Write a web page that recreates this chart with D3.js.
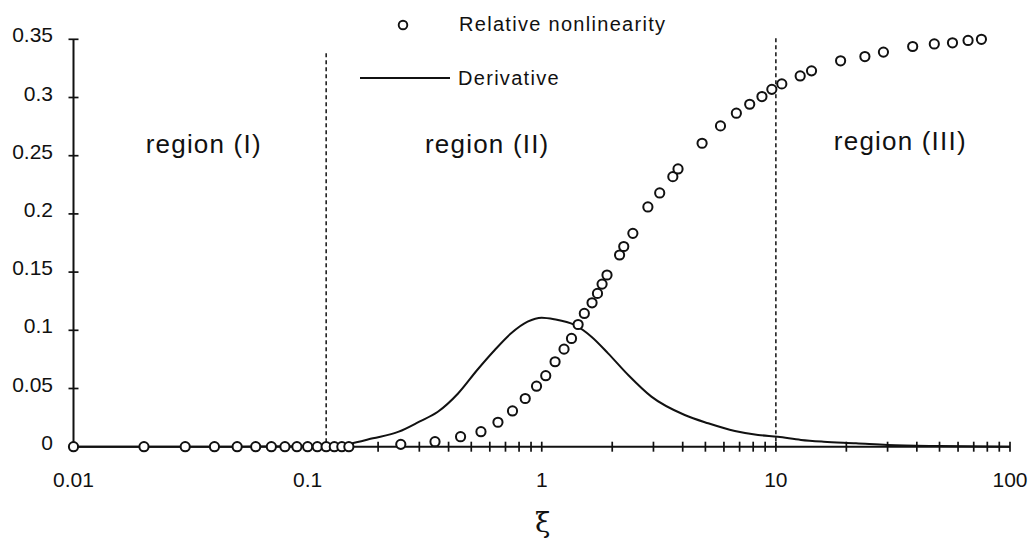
<!DOCTYPE html>
<html>
<head>
<meta charset="utf-8">
<script src="https://d3js.org/d3.v7.min.js"></script>
<style>
  body { margin: 0; background: #fff; }
  text { font-family: "Liberation Sans", Arial, sans-serif; fill: #111; }
</style>
</head>
<body>
<script>
// relative nonlinearity (circles)
var relX = [0.01, 0.02, 0.03, 0.04, 0.05, 0.06, 0.07, 0.08, 0.09, 0.1, 0.11, 0.12, 0.13, 0.14, 0.15,
            0.25, 0.35, 0.45, 0.55, 0.65, 0.75, 0.85, 0.95,
            1.04, 1.14, 1.245, 1.34, 1.43, 1.52, 1.64, 1.73, 1.81, 1.9,
            2.15, 2.24, 2.45, 2.84, 3.19, 3.63, 3.82,
            4.84, 5.8, 6.78, 7.73, 8.72, 9.61,
            10.6, 12.7, 14.2, 18.9, 24, 28.8, 38.4, 47.5, 56.8, 66.2, 75.5];
var relY = [0, 0, 0, 0, 0, 0, 0, 0, 0, 0, 0, 0, 0, 0, 0,
            0.002, 0.0043, 0.0086, 0.0129, 0.021, 0.0307, 0.0414, 0.052,
            0.061, 0.073, 0.0838, 0.093, 0.105, 0.1145, 0.1236, 0.1317, 0.1397, 0.1475,
            0.1647, 0.172, 0.1833, 0.206, 0.218, 0.232, 0.2386,
            0.2607, 0.2756, 0.2865, 0.2942, 0.3008, 0.307,
            0.3117, 0.3185, 0.3229, 0.3315, 0.3352, 0.339, 0.3438, 0.346, 0.347, 0.349, 0.35];

// derivative (solid line)
var derX = [0.01, 0.05, 0.1, 0.13, 0.15, 0.19, 0.245, 0.3, 0.36, 0.44, 0.53, 0.63, 0.74, 0.87, 1.0,
            1.13, 1.38, 1.63, 1.92, 2.34, 2.94, 4.08, 5.14, 6.68, 8.4, 10.2, 12.8, 16, 22, 30, 50, 100];
var derY = [0, 0, 0.0003, 0.001, 0.0025, 0.0072, 0.0129, 0.0215, 0.03, 0.0459, 0.0659, 0.0831, 0.0974, 0.1074, 0.1108,
            0.1095, 0.1046, 0.0945, 0.0802, 0.0616, 0.043, 0.0272, 0.0201, 0.0135, 0.0101, 0.0085, 0.0058, 0.0043, 0.003, 0.0015, 0.0005, 0];

var yTicks = [0, 0.05, 0.1, 0.15, 0.2, 0.25, 0.3, 0.35];
var yTickLabels = ["0", "0.05", "0.1", "0.15", "0.2", "0.25", "0.3", "0.35"];
var xMajor = [0.01, 0.1, 1, 10, 100];
var xMajorLabels = ["0.01", "0.1", "1", "10", "100"];
var regionBounds = [0.12, 10];
var sepTop = [0.338, 0.351];
var regionNames = ["region (I)", "region (II)", "region (III)"];
var regionLabelX = [0.036, 0.585, 34];

const W = 1031, H = 540;
const svg = d3.select("body").append("svg").attr("width", W).attr("height", H);

const x = d3.scaleLog().domain([0.01, 100]).range([73.5, 1010]);
const y = d3.scaleLinear().domain([0, 0.35]).range([446.7, 39.3]);

// minor ticks 2..9 per decade
var xMinor = [];
xMajor.slice(0, 4).forEach(function(d) {
  for (var k = 2; k <= 9; k++) xMinor.push(d * k);
});

// y axis
svg.append("line").attr("x1", x(0.01)).attr("x2", x(0.01))
  .attr("y1", y(0.35)).attr("y2", y(0))
  .attr("stroke", "#111").attr("stroke-width", 2);
svg.selectAll(".ytick").data(yTicks).enter().append("line")
  .attr("x1", x(0.01) - 5).attr("x2", x(0.01) + 5)
  .attr("y1", d => y(d)).attr("y2", d => y(d))
  .attr("stroke", "#111").attr("stroke-width", 1.7);
svg.selectAll(".ylab").data(yTicks).enter().append("text")
  .attr("x", 53).attr("y", d => y(d) + 3)
  .attr("text-anchor", "end").attr("font-size", 21)
  .text((d, i) => yTickLabels[i]);

// x axis
svg.append("line").attr("x1", x(0.01)).attr("x2", x(100))
  .attr("y1", y(0)).attr("y2", y(0))
  .attr("stroke", "#111").attr("stroke-width", 2);
svg.selectAll(".xtick").data(xMajor.concat(xMinor)).enter().append("line")
  .attr("x1", d => x(d)).attr("x2", d => x(d))
  .attr("y1", y(0) - 5).attr("y2", y(0) + 5)
  .attr("stroke", "#111").attr("stroke-width", 1.7);
svg.selectAll(".xlab").data(xMajor).enter().append("text")
  .attr("x", d => x(d)).attr("y", y(0) + 40)
  .attr("text-anchor", "middle").attr("font-size", 21)
  .text((d, i) => xMajorLabels[i]);

svg.append("text").attr("x", x(1) + 1).attr("y", 532)
  .attr("text-anchor", "middle").attr("font-size", 28)
  .style("font-family", "'DejaVu Serif', serif")
  .text("ξ");

// region separators
svg.selectAll(".sep").data(regionBounds).enter().append("line")
  .attr("x1", d => x(d)).attr("x2", d => x(d))
  .attr("y1", (d, i) => y(sepTop[i])).attr("y2", y(0))
  .attr("stroke", "#111").attr("stroke-width", 1.5)
  .attr("stroke-dasharray", "4,3");

svg.selectAll(".region").data(regionNames).enter().append("text")
  .attr("x", (d, i) => x(regionLabelX[i])).attr("y", (d, i) => i == 2 ? 150 : 153)
  .attr("text-anchor", "middle").attr("font-size", 26)
  .style("letter-spacing", "1.2px")
  .text(d => d);

// derivative curve
var line = d3.line()
  .x(d => x(d[0])).y(d => y(d[1]))
  .curve(d3.curveMonotoneX);
svg.append("path")
  .datum(derX.map((d, i) => [d, derY[i]]))
  .attr("d", line)
  .attr("fill", "none").attr("stroke", "#111").attr("stroke-width", 2);

// relative nonlinearity points
svg.selectAll(".pt").data(relX.map((d, i) => [d, relY[i]])).enter().append("circle")
  .attr("cx", d => x(d[0])).attr("cy", d => y(d[1])).attr("r", 4.6)
  .attr("fill", "#fff").attr("stroke", "#111").attr("stroke-width", 2);

// legend
svg.append("circle").attr("cx", 403).attr("cy", 25).attr("r", 4.3)
  .attr("fill", "#fff").attr("stroke", "#111").attr("stroke-width", 1.9);
svg.append("text").attr("x", 459).attr("y", 31).attr("font-size", 20)
  .style("letter-spacing", "1.3px").text("Relative nonlinearity");
svg.append("line").attr("x1", 360).attr("x2", 450).attr("y1", 78).attr("y2", 78)
  .attr("stroke", "#111").attr("stroke-width", 1.8);
svg.append("text").attr("x", 458).attr("y", 85).attr("font-size", 20)
  .style("letter-spacing", "1.3px").text("Derivative");
</script>
</body>
</html>
